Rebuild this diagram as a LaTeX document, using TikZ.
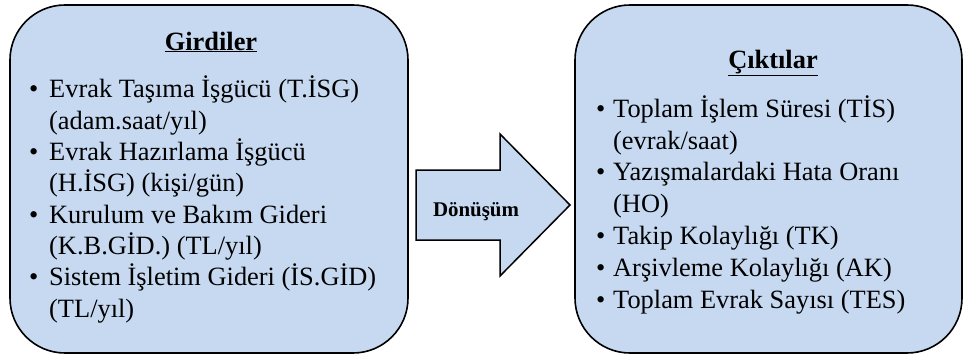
\documentclass[tikz,border=0pt]{standalone}
\usepackage{fontspec}
\setmainfont{Liberation Serif}
\usetikzlibrary{positioning}
\definecolor{kutumavi}{RGB}{198,217,241}
\newcommand{\madde}{\makebox[20pt][l]{\textbullet}}
\newcommand{\devam}{\hspace*{20pt}}
\newcommand{\maddeb}{\makebox[17pt][l]{\textbullet}}
\newcommand{\devamb}{\hspace*{17pt}}

\begin{document}
\begin{tikzpicture}[x=1pt,y=-1pt,
  kutu/.style={draw,line width=1.6pt,fill=kutumavi,rounded corners=55pt,minimum height=348pt},
  baslik/.style={font=\fontsize{26.4}{31.3}\selectfont\bfseries,anchor=base,inner sep=0pt},
  liste/.style={align=left,anchor=base west,inner sep=0pt}]
  \useasboundingbox (0,0) rectangle (963,356);
  % kutular
  \node[kutu,minimum width=398pt] (girdi) at (209,179) {};
  \node[kutu,minimum width=387pt] (cikti) at (768.5,179) {};
  % donusum oku
  \draw[line width=1.5pt,fill=kutumavi] (416,170) -- (500,170) -- (500,134) -- (570,205)
    -- (500,276) -- (500,240) -- (416,240) -- cycle;
  \node[font=\fontsize{20.9}{25}\selectfont\bfseries,anchor=base,inner sep=0pt] (donusum) at (476,216) {Dönüşüm};
  % girdiler (base = son satir)
  \node[baslik] (girdibaslik) at (211,50) {\underline{Girdiler}};
  \node[liste,font=\fontsize{26.4}{31.3}\selectfont] (girdiliste) at (29,317) {\madde Evrak Taşıma İşgücü (T.İSG)\\
    \devam(adam.saat/yıl)\\
    \madde Evrak Hazırlama İşgücü\\
    \devam(H.İSG) (kişi/gün)\\
    \madde Kurulum ve Bakım Gideri\\
    \devam(K.B.GİD.) (TL/yıl)\\
    \madde Sistem İşletim Gideri (İS.GİD)\\
    \devam(TL/yıl)};
  % ciktilar
  \node[baslik] (ciktibaslik) at (773,68) {\underline{Çıktılar}};
  \node[liste,font=\fontsize{26.4}{31.8}\selectfont] (ciktiliste) at (596,308) {\maddeb Toplam İşlem Süresi (TİS)\\
    \devamb(evrak/saat)\\
    \maddeb Yazışmalardaki Hata Oranı\\
    \devamb(HO)\\
    \maddeb Takip Kolaylığı (TK)\\
    \maddeb Arşivleme Kolaylığı (AK)\\
    \maddeb Toplam Evrak Sayısı (TES)};
\end{tikzpicture}
\end{document}
